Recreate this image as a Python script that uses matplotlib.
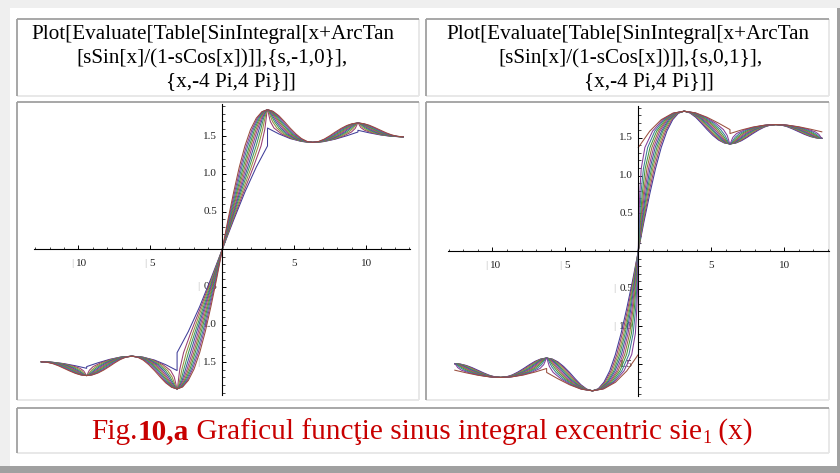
import colorsys
import numpy as np
import matplotlib
matplotlib.use("Agg")
import matplotlib.pyplot as plt

plt.rcParams['font.family'] = ['Liberation Serif', 'DejaVu Serif']

# ---------------- data ----------------
# Every curve is odd (f(-x) = -f(x)); the x >= 0 halves are listed and mirrored.
# Shared y values of the curve points (SinIntegral values)
Y_COMMON = [0.0000, 0.3894, 0.7590, 1.0910, 1.3708, 1.5885, 1.7397, 1.8255, 1.8519,
            1.8295, 1.7718, 1.6932, 1.6085, 1.5304, 1.4690, 1.4307, 1.4182, 1.4296,
            1.4611, 1.5057, 1.5558, 1.6034, 1.6419, 1.6665, 1.6748, 1.6670, 1.6454,
            1.6142, 1.5787, 1.5445, 1.5164, 1.4983, 1.4922]

# s = 0 (common to both panels)
X_S0 = [0, 0.39, 0.79, 1.18, 1.57, 1.96, 2.36, 2.75, 3.14, 3.53, 3.93, 4.32, 4.71, 5.11, 5.50,
        5.89, 6.28, 6.68, 7.07, 7.46, 7.85, 8.25, 8.64, 9.03, 9.42, 9.82, 10.21, 10.60, 11.00,
        11.39, 11.78, 12.17, 12.57]

# left panel, s from -1 to 0
S_LEFT = [-1.0, -0.9, -0.8, -0.7, -0.6, -0.5, -0.4, -0.3, -0.2, -0.1, 0.0]
X_SN01 = [0, 0.43, 0.86, 1.27, 1.67, 2.06, 2.43, 2.79, 3.14, 3.50, 3.86, 4.23, 4.61, 5.01, 5.43,
          5.85, 6.28, 6.71, 7.14, 7.55, 7.95, 8.34, 8.71, 9.07, 9.42, 9.78, 10.14, 10.51, 10.90,
          11.30, 11.71, 12.14, 12.57]
X_SN02 = [0, 0.47, 0.93, 1.36, 1.77, 2.15, 2.50, 2.83, 3.14, 3.46, 3.79, 4.13, 4.51, 4.92, 5.36,
          5.81, 6.28, 6.75, 7.21, 7.65, 8.06, 8.43, 8.78, 9.11, 9.42, 9.74, 10.07, 10.42, 10.79,
          11.20, 11.64, 12.10, 12.57]
X_SN03 = [0, 0.51, 1.00, 1.46, 1.88, 2.24, 2.57, 2.86, 3.14, 3.42, 3.71, 4.04, 4.41, 4.82, 5.28,
          5.78, 6.28, 6.79, 7.28, 7.74, 8.16, 8.53, 8.85, 9.15, 9.42, 9.70, 10.00, 10.32, 10.69,
          11.11, 11.57, 12.06, 12.57]
X_SN04 = [0, 0.55, 1.07, 1.56, 1.98, 2.34, 2.64, 2.90, 3.14, 3.38, 3.64, 3.94, 4.30, 4.73, 5.21,
          5.74, 6.28, 6.83, 7.36, 7.84, 8.27, 8.63, 8.93, 9.19, 9.42, 9.66, 9.92, 10.22, 10.58,
          11.01, 11.49, 12.02, 12.57]
X_SN05 = [0, 0.59, 1.15, 1.66, 2.09, 2.44, 2.72, 2.94, 3.14, 3.34, 3.57, 3.84, 4.19, 4.62, 5.14,
          5.70, 6.28, 6.87, 7.43, 7.94, 8.38, 8.73, 9.00, 9.22, 9.42, 9.63, 9.85, 10.12, 10.47,
          10.91, 11.42, 11.98, 12.57]
X_SN06 = [0, 0.62, 1.22, 1.77, 2.21, 2.55, 2.79, 2.98, 3.14, 3.30, 3.49, 3.73, 4.07, 4.52, 5.06,
          5.66, 6.28, 6.91, 7.51, 8.05, 8.50, 8.83, 9.08, 9.26, 9.42, 9.59, 9.77, 10.02, 10.35,
          10.80, 11.34, 11.94, 12.57]
X_SN07 = [0, 0.66, 1.30, 1.88, 2.35, 2.67, 2.87, 3.02, 3.14, 3.26, 3.41, 3.62, 3.94, 4.40, 4.98,
          5.62, 6.28, 6.95, 7.59, 8.16, 8.63, 8.95, 9.16, 9.30, 9.42, 9.55, 9.69, 9.90, 10.22,
          10.69, 11.26, 11.90, 12.57]
X_SN08 = [0, 0.70, 1.39, 2.01, 2.50, 2.80, 2.96, 3.06, 3.14, 3.22, 3.33, 3.49, 3.79, 4.27, 4.90,
          5.58, 6.28, 6.99, 7.67, 8.29, 8.78, 9.08, 9.24, 9.34, 9.42, 9.51, 9.61, 9.77, 10.07,
          10.56, 11.18, 11.86, 12.57]
X_SN09 = [0, 0.74, 1.48, 2.16, 2.69, 2.95, 3.05, 3.10, 3.14, 3.18, 3.24, 3.34, 3.59, 4.12, 4.81,
          5.54, 6.28, 7.03, 7.76, 8.44, 8.97, 9.23, 9.33, 9.38, 9.42, 9.47, 9.52, 9.62, 9.88,
          10.41, 11.09, 11.82, 12.57]
X_SN10 = [0, 0.79, 1.57, 2.36, 3.14, 3.14, 3.93, 4.71, 5.50, 6.28, 7.07, 7.85, 8.64, 9.42, 9.42,
          10.21, 11.00, 11.78, 12.57]
Y_SN10 = [0.0000, 0.3894, 0.7590, 1.0910, 1.3708, 1.6085, 1.5304, 1.4690, 1.4307, 1.4182,
          1.4296, 1.4611, 1.5057, 1.5558, 1.5787, 1.5445, 1.5164, 1.4983, 1.4922]

# right panel, s from 0 to 1
S_RIGHT = [0.0, 0.1, 0.2, 0.3, 0.4, 0.5, 0.6, 0.7, 0.8, 0.9, 1.0]
X_SP01 = [0, 0.35, 0.71, 1.09, 1.47, 1.87, 2.29, 2.71, 3.14, 3.57, 4.00, 4.41, 4.81, 5.20, 5.57,
          5.93, 6.28, 6.64, 7.00, 7.37, 7.75, 8.15, 8.57, 8.99, 9.42, 9.86, 10.28, 10.70, 11.10,
          11.48, 11.85, 12.21, 12.57]
X_SP02 = [0, 0.32, 0.64, 0.99, 1.37, 1.78, 2.21, 2.67, 3.14, 3.61, 4.07, 4.51, 4.91, 5.29, 5.64,
          5.97, 6.28, 6.60, 6.93, 7.28, 7.65, 8.06, 8.50, 8.96, 9.42, 9.89, 10.35, 10.79, 11.20,
          11.57, 11.92, 12.25, 12.57]
X_SP03 = [0, 0.28, 0.57, 0.90, 1.27, 1.68, 2.14, 2.63, 3.14, 3.65, 4.14, 4.60, 5.02, 5.39, 5.71,
          6.01, 6.28, 6.56, 6.85, 7.18, 7.55, 7.97, 8.43, 8.92, 9.42, 9.93, 10.42, 10.88, 11.30,
          11.67, 11.99, 12.29, 12.57]
X_SP04 = [0, 0.24, 0.50, 0.80, 1.16, 1.59, 2.07, 2.60, 3.14, 3.69, 4.21, 4.70, 5.12, 5.48, 5.78,
          6.04, 6.28, 6.52, 6.78, 7.08, 7.44, 7.87, 8.35, 8.88, 9.42, 9.97, 10.50, 10.98, 11.41,
          11.77, 12.07, 12.33, 12.57]
X_SP05 = [0, 0.20, 0.42, 0.70, 1.05, 1.48, 1.99, 2.56, 3.14, 3.73, 4.29, 4.80, 5.24, 5.59, 5.86,
          6.08, 6.28, 6.48, 6.71, 6.98, 7.33, 7.77, 8.28, 8.84, 9.42, 10.01, 10.57, 11.08, 11.52,
          11.87, 12.14, 12.37, 12.57]
X_SP06 = [0, 0.16, 0.35, 0.59, 0.93, 1.38, 1.92, 2.52, 3.14, 3.77, 4.37, 4.91, 5.36, 5.69, 5.94,
          6.12, 6.28, 6.44, 6.63, 6.87, 7.21, 7.66, 8.20, 8.80, 9.42, 10.05, 10.65, 11.19, 11.64,
          11.98, 12.22, 12.41, 12.57]
X_SP07 = [0, 0.12, 0.27, 0.47, 0.80, 1.26, 1.84, 2.48, 3.14, 3.81, 4.44, 5.02, 5.49, 5.81, 6.02,
          6.16, 6.28, 6.40, 6.55, 6.76, 7.08, 7.54, 8.12, 8.76, 9.42, 10.09, 10.73, 11.31, 11.77,
          12.09, 12.30, 12.44, 12.57]
X_SP08 = [0, 0.08, 0.18, 0.35, 0.64, 1.13, 1.75, 2.44, 3.14, 3.85, 4.53, 5.15, 5.64, 5.94, 6.10,
          6.20, 6.28, 6.36, 6.47, 6.63, 6.93, 7.41, 8.04, 8.72, 9.42, 10.13, 10.81, 11.43, 11.92,
          12.22, 12.38, 12.48, 12.57]
X_SP09 = [0, 0.04, 0.10, 0.20, 0.45, 0.98, 1.67, 2.40, 3.14, 3.89, 4.62, 5.30, 5.83, 6.09, 6.19,
          6.24, 6.28, 6.32, 6.38, 6.48, 6.73, 7.26, 7.95, 8.68, 9.42, 10.17, 10.90, 11.58, 12.12,
          12.37, 12.47, 12.53, 12.57]
X_SP10 = [0, 0.79, 1.57, 2.36, 3.14, 3.93, 4.71, 5.50, 6.28, 6.28, 7.07, 7.85, 8.64, 9.42, 10.21,
          11.00, 11.78, 12.57]
Y_SP10 = [1.3708, 1.5885, 1.7397, 1.8255, 1.8519, 1.8295, 1.7718, 1.6932, 1.6085, 1.5558,
          1.6034, 1.6419, 1.6665, 1.6748, 1.6670, 1.6454, 1.6142, 1.5787]

# axis ticks / labels
X_MAJOR = [-10, -5, 5, 10]
Y_MAJOR = [-1.5, -1.0, -0.5, 0.5, 1.0, 1.5]

TITLE_LEFT = ["Plot[Evaluate[Table[SinIntegral[x+ArcTan",
              "[sSin[x]/(1-sCos[x])]],{s,-1,0}],",
              "{x,-4 Pi,4 Pi}]]"]
TITLE_RIGHT = ["Plot[Evaluate[Table[SinIntegral[x+ArcTan",
               "[sSin[x]/(1-sCos[x])]],{s,0,1}],",
               "{x,-4 Pi,4 Pi}]]"]
CAPTION = [("Fig.", "normal"), ("10,a", "bold"),
           (" Graficul funcţie sinus integral excentric sie", "normal"),
           ("1", "sub"), (" (x)", "normal")]

# ---------------- figure ----------------
W, H = 840, 473
fig = plt.figure(figsize=(W / 100, H / 100), dpi=100)
fig.patch.set_facecolor('white')

bg = fig.add_axes([0, 0, 1, 1], zorder=0)
bg.set_xlim(0, W)
bg.set_ylim(H, 0)
bg.axis('off')

LIGHT = '#efefef'
DARK = '#a0a0a0'
# outer frame
bg.add_patch(plt.Rectangle((0, 0), W, 8.5, color=LIGHT, lw=0))
bg.add_patch(plt.Rectangle((0, 0), 9.5, 466, color=LIGHT, lw=0))
bg.add_patch(plt.Rectangle((837, 8.5), 3, H, color=DARK, lw=0))
bg.add_patch(plt.Rectangle((0, 466), W, 7, color=DARK, lw=0))


def cell(x0, y0, x1, y1):
    lw = 1.3
    bg.plot([x0, x1], [y1, y1], color='#e6e6e6', lw=lw, solid_capstyle='butt')
    bg.plot([x1, x1], [y0, y1], color='#e6e6e6', lw=lw, solid_capstyle='butt')
    bg.plot([x0, x1], [y0, y0], color=DARK, lw=lw, solid_capstyle='butt')
    bg.plot([x0, x0], [y0, y1], color=DARK, lw=lw, solid_capstyle='butt')


cell(16.5, 19.5, 419, 96)
cell(425.5, 19.5, 829, 96)
cell(16.5, 102.5, 419, 400)
cell(425.5, 102.5, 829, 400)
cell(16.5, 407.5, 829, 453)

renderer = fig.canvas.get_renderer()

# header titles (fit the first line's width)
probe = bg.text(0, 0, TITLE_LEFT[0], fontsize=14)
w0 = probe.get_window_extent(renderer).width
probe.remove()
title_fs = 14 * 363.0 / w0
for lines, centers in ((TITLE_LEFT, (213, 212, 231)), (TITLE_RIGHT, (628, 631, 649))):
    for line, cx, by in zip(lines, centers, (39.5, 63.0, 86.5)):
        bg.text(cx, by, line, fontsize=title_fs, ha='center', va='baseline', color='black')

# caption
RED = '#c80000'


def caption_pieces(fs):
    arts = []
    for txt, kind in CAPTION:
        if kind == 'sub':
            t = bg.text(0, 0, txt, fontsize=fs * 0.62, color=RED, va='baseline')
        else:
            t = bg.text(0, 0, txt, fontsize=fs, color=RED, va='baseline',
                        fontweight='bold' if kind == 'bold' else 'normal')
        arts.append((t, kind))
    widths = [a.get_window_extent(renderer).width for a, _ in arts]
    return arts, widths


arts, widths = caption_pieces(17)
total = sum(widths)
for a, _ in arts:
    a.remove()
cap_fs = 17 * 662.0 / total
arts, widths = caption_pieces(cap_fs)
xcur = 422.0 - sum(widths) / 2.0
base = 439.0
for (a, kind), wd in zip(arts, widths):
    a.set_position((xcur, base + (4.0 if kind == 'sub' else 0.0)))
    xcur += wd


# ---------------- plot panels ----------------
def mma_color(i):
    h = (0.67 + 2.0 * i / 1.618033988749895) % 1.0
    return colorsys.hsv_to_rgb(h, 0.6, 0.6)


XP, YP = 13.07, 1.926
LW = 0.75


def px_axes(x0, y0, x1, y1):
    ax = fig.add_axes([x0 / W, 1 - y1 / H, (x1 - x0) / W, (y1 - y0) / H], zorder=2)
    ax.patch.set_alpha(0)
    ax.set_xlim(-XP, XP)
    ax.set_ylim(-YP, YP)
    for sp in ('top', 'right'):
        ax.spines[sp].set_visible(False)
    ax.spines['left'].set_position(('data', 0))
    ax.spines['bottom'].set_position(('data', 0))
    ax.spines['left'].set_linewidth(0.8)
    ax.spines['bottom'].set_linewidth(0.8)
    ax.set_xticks(X_MAJOR)
    ax.set_xticks([v for v in range(-13, 14) if v % 5 != 0], minor=True)
    ax.set_yticks(Y_MAJOR)
    ax.set_yticks([k / 10 for k in range(-19, 20) if k % 5 != 0], minor=True)
    ax.tick_params(which='major', direction='in', length=3.2, width=0.7,
                   labelbottom=False, labelleft=False)
    ax.tick_params(which='minor', direction='in', length=1.8, width=0.5)
    lab = dict(fontsize=8, color='#222222', textcoords='offset pixels', zorder=1,
               annotation_clip=False)
    bar = dict(fontsize=8, color='#b5b5b5', textcoords='offset pixels', zorder=1,
               annotation_clip=False, ha='center', va='center')
    for v in X_MAJOR:
        s = str(abs(v))
        if v > 0:
            ax.annotate(s, (v, 0), xytext=(0, -14), ha='center', va='center', **lab)
        else:
            off = 3.5 if abs(v) >= 10 else 1.5
            ax.annotate(s, (v, 0), xytext=(off, -14), ha='center', va='center', **lab)
            ax.annotate('|', (v, 0), xytext=(off - 10 if abs(v) >= 10 else off - 6.5, -14), **bar)
    for v in Y_MAJOR:
        s = f"{abs(v):.1f}"
        ax.annotate(s, (0, v), xytext=(-5, 0), ha='right', va='center', **lab)
        if v < 0:
            ax.annotate('|', (0, v), xytext=(-24, 0), **bar)
    return ax


def draw_curves(ax, curves):
    for i, (xh, yh, split) in enumerate(curves):
        c = mma_color(i)
        xh = np.asarray(xh, float)
        yh = np.asarray(yh, float)
        if split:
            ax.plot(xh, yh, color=c, lw=LW, zorder=2)
            ax.plot(-xh, -yh, color=c, lw=LW, zorder=2)
        else:
            xs = np.concatenate([-xh[::-1], xh[1:]])
            ys = np.concatenate([-yh[::-1], yh[1:]])
            ax.plot(xs, ys, color=c, lw=LW, zorder=2)


ax1 = px_axes(34.1, 104.1, 410.5, 394.5)
left_curves = [(X_SN10, Y_SN10, False), (X_SN09, Y_COMMON, False), (X_SN08, Y_COMMON, False),
               (X_SN07, Y_COMMON, False), (X_SN06, Y_COMMON, False), (X_SN05, Y_COMMON, False),
               (X_SN04, Y_COMMON, False), (X_SN03, Y_COMMON, False), (X_SN02, Y_COMMON, False),
               (X_SN01, Y_COMMON, False), (X_S0, Y_COMMON, False)]
draw_curves(ax1, left_curves)

ax2 = px_axes(447.5, 105.6, 829.1, 396.4)
right_curves = [(X_S0, Y_COMMON, False), (X_SP01, Y_COMMON, False), (X_SP02, Y_COMMON, False),
                (X_SP03, Y_COMMON, False), (X_SP04, Y_COMMON, False), (X_SP05, Y_COMMON, False),
                (X_SP06, Y_COMMON, False), (X_SP07, Y_COMMON, False), (X_SP08, Y_COMMON, False),
                (X_SP09, Y_COMMON, False), (X_SP10, Y_SP10, True)]
draw_curves(ax2, right_curves)

fig.savefig('out.png', dpi=100, facecolor='white')
